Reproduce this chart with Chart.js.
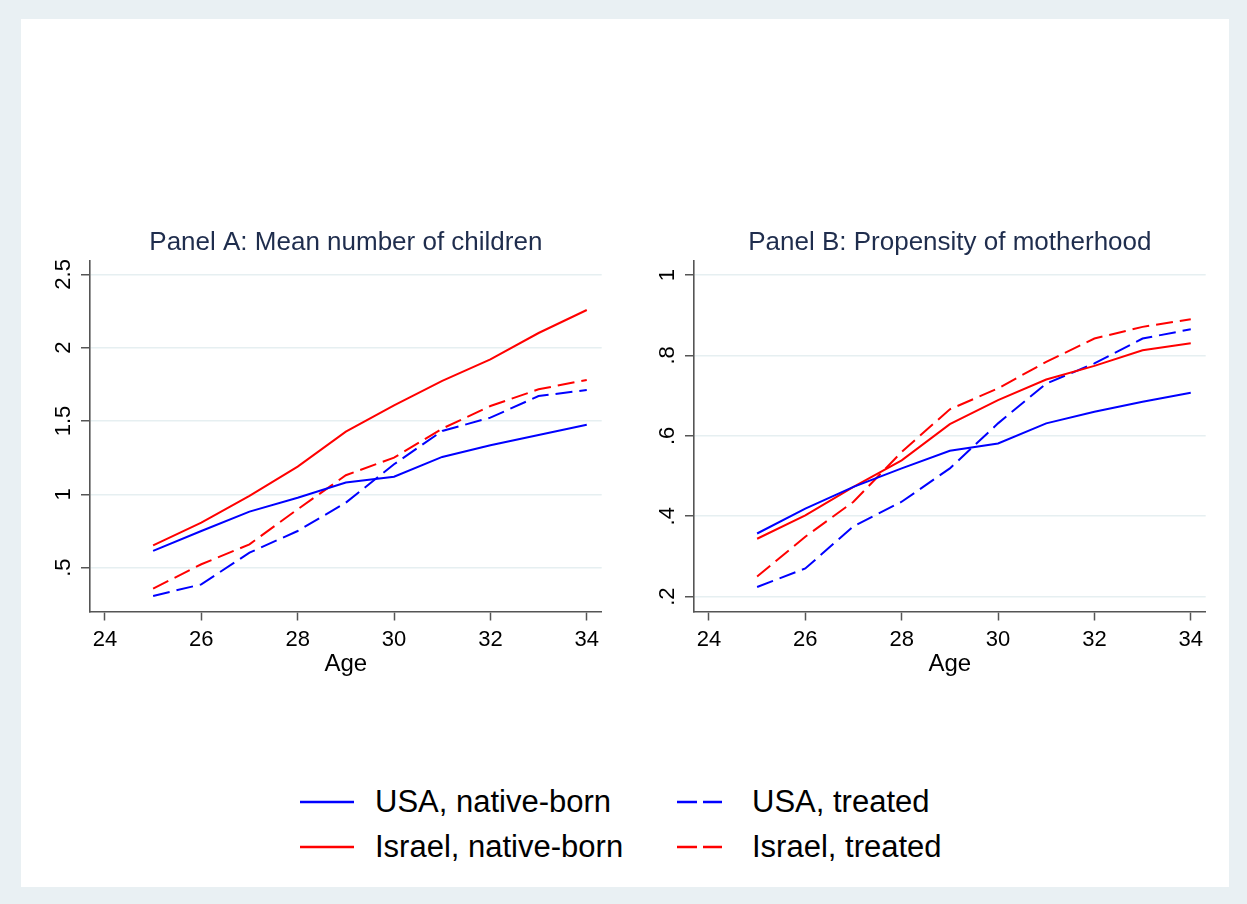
<!DOCTYPE html>
<html>
<head>
<meta charset="utf-8">
<script src="https://cdn.jsdelivr.net/npm/chart.js@4.4.1/dist/chart.umd.min.js"></script>
<style>
  html, body { margin: 0; padding: 0; }
  body {
    width: 1247px; height: 904px; position: relative; overflow: hidden;
    background: #e9f0f3;
    font-family: 'Liberation Sans', Arial, sans-serif;
  }
  #frame { position: absolute; left: 21px; top: 19px; width: 1208px; height: 868px; background: #fff; }
  canvas.panel { position: absolute; top: 215px; }
  #panelA { left: 30px; }
  #panelB { left: 634px; }
  #legend {
    position: absolute; left: 300px; top: 780px;
    display: grid; grid-template-columns: 377px auto; grid-auto-flow: column;
    grid-template-rows: 44.6px 44.6px;
  }
  .item { display: flex; align-items: center; height: 44.6px; font-size: 31px; color: #000; white-space: nowrap; }
  .item svg { width: 54px; height: 4px; margin-right: 21px; }
</style>
</head>
<body>
<div id="frame"></div>
<canvas id="panelA" class="panel" width="590" height="475"></canvas>
<canvas id="panelB" class="panel" width="590" height="475"></canvas>
<div id="legend"></div>

<script>
// ages on the x axis
const ages = [25, 26, 27, 28, 29, 30, 31, 32, 33, 34];

// Panel A: mean number of children
const usaNativeA     = [0.614, 0.750, 0.882, 0.977, 1.080, 1.120, 1.255, 1.334, 1.405, 1.475];
const israelNativeA  = [0.652, 0.807, 0.989, 1.189, 1.427, 1.607, 1.773, 1.920, 2.100, 2.257];
const usaTreatedA    = [0.307, 0.386, 0.602, 0.750, 0.943, 1.205, 1.432, 1.523, 1.670, 1.711];
const israelTreatedA = [0.357, 0.523, 0.659, 0.898, 1.130, 1.250, 1.448, 1.602, 1.716, 1.780];

// Panel B: propensity of motherhood
const usaNativeB     = [0.357, 0.419, 0.473, 0.519, 0.563, 0.581, 0.631, 0.660, 0.685, 0.707];
const israelNativeB  = [0.344, 0.402, 0.473, 0.539, 0.629, 0.689, 0.740, 0.774, 0.813, 0.830];
const usaTreatedB    = [0.224, 0.270, 0.375, 0.436, 0.519, 0.631, 0.730, 0.780, 0.842, 0.865];
const israelTreatedB = [0.250, 0.349, 0.436, 0.560, 0.666, 0.718, 0.784, 0.842, 0.871, 0.890];

const seriesNames = ['USA, native-born', 'Israel, native-born', 'USA, treated', 'Israel, treated'];
const xTicks  = [24, 26, 28, 30, 32, 34];
const yTicksA = [0.5, 1, 1.5, 2, 2.5];
const yTicksB = [0.2, 0.4, 0.6, 0.8, 1];

const colors = ['#0000ff', '#ff0000', '#0000ff', '#ff0000'];
const dashes = [[], [], [17, 7], [17, 7]];
const axisColor = '#555555';
const gridColor = '#e6eff1';

Chart.defaults.font.family = "'Liberation Sans', Arial, sans-serif";
Chart.defaults.color = '#000';

function stataNum(v) {
  return String(Math.round(v * 100) / 100).replace(/^0(?=\.)/, '');
}

function makePanel(id, title, series, yTicks, yMin, yMax, yLabelPad) {
  const datasets = series.map((vals, i) => ({
    label: seriesNames[i],
    data: ages.map((a, j) => ({ x: a, y: vals[j] })),
    borderColor: colors[i],
    borderWidth: 2,
    borderDash: dashes[i],
    pointRadius: 0,
    fill: false,
    tension: 0
  }));

  return new Chart(document.getElementById(id), {
    type: 'line',
    data: { datasets: datasets },
    options: {
      responsive: false,
      animation: false,
      layout: { padding: { left: 0, right: 18.3, top: 0, bottom: 0 } },
      plugins: {
        legend: { display: false },
        tooltip: { enabled: false },
        title: {
          display: true,
          text: title,
          fullSize: false,
          color: '#1f2d4d',
          font: { size: 26, weight: 'normal' },
          padding: { top: 12.4, bottom: 2.1 }
        }
      },
      scales: {
        x: {
          type: 'linear',
          min: 23.69,
          max: 34.31,
          afterBuildTicks: s => { s.ticks = xTicks.map(v => ({ value: v })); },
          afterFit: s => { s.height = 78.5; },
          ticks: { font: { size: 22 }, padding: 6.5, maxRotation: 0, autoSkip: false, callback: v => stataNum(v) },
          grid: { drawOnChartArea: false, color: 'rgba(0,0,0,0)', tickColor: axisColor, tickWidth: 1.5, tickLength: 9 },
          border: { display: true, color: axisColor, width: 1.6 },
          title: { display: true, text: 'Age', font: { size: 24 }, color: '#000', padding: { top: 0, bottom: 11.1 } }
        },
        y: {
          type: 'linear',
          min: yMin,
          max: yMax,
          afterBuildTicks: s => { s.ticks = yTicks.map(v => ({ value: v })); },
          afterFit: s => { s.width = 60; },
          ticks: {
            font: { size: 22 }, padding: yLabelPad, minRotation: 90, maxRotation: 90,
            crossAlign: 'center', autoSkip: false, callback: v => stataNum(v)
          },
          grid: { color: gridColor, lineWidth: 1.5, tickColor: axisColor, tickWidth: 1.5, tickLength: 9 },
          border: { display: true, color: axisColor, width: 1.6 }
        }
      }
    }
  });
}

const chartA = makePanel('panelA', 'Panel A: Mean number of children',
  [usaNativeA, israelNativeA, usaTreatedA, israelTreatedA], yTicksA, 0.201, 2.593, 1.5);
const chartB = makePanel('panelB', 'Panel B: Propensity of motherhood',
  [usaNativeB, israelNativeB, usaTreatedB, israelTreatedB], yTicksB, 0.163, 1.0356, 8);

// shared legend, two columns like the original
const legend = document.getElementById('legend');
chartA.data.datasets.forEach(ds => {
  const item = document.createElement('div');
  item.className = 'item';
  const dashed = ds.borderDash.length > 0;
  const x2 = dashed ? 45 : 54;
  const dash = dashed ? ' stroke-dasharray="20 6"' : '';
  item.innerHTML = '<svg viewBox="0 0 54 4"><line x1="0" y1="2" x2="' + x2 + '" y2="2" stroke="' +
    ds.borderColor + '" stroke-width="2.4"' + dash + '/></svg><span></span>';
  item.querySelector('span').textContent = ds.label;
  legend.appendChild(item);
});
</script>
</body>
</html>
